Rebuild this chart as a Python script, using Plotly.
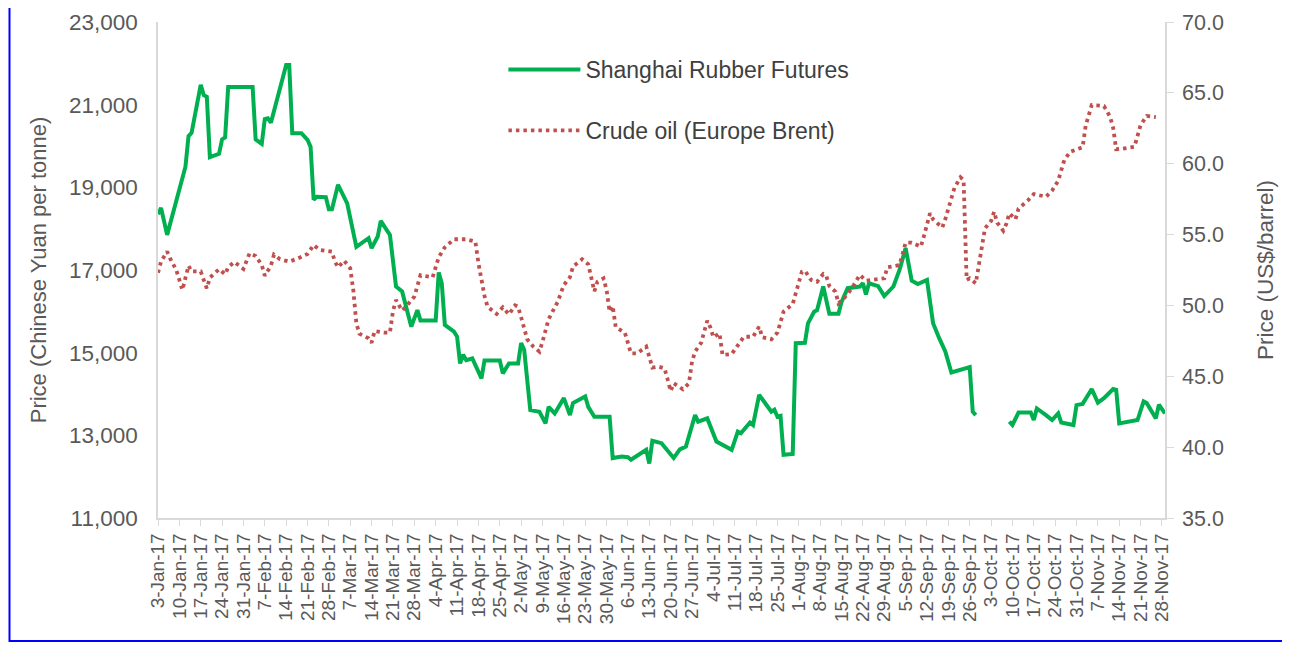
import plotly.graph_objects as go
import pandas as pd

# ---------------- data ----------------
rubber_dates = [
    "2017-01-03", "2017-01-04", "2017-01-06", "2017-01-12", "2017-01-13", "2017-01-14",
    "2017-01-17", "2017-01-18", "2017-01-19", "2017-01-20", "2017-01-23", "2017-01-24",
    "2017-01-25", "2017-01-26", "2017-02-03", "2017-02-04", "2017-02-06", "2017-02-07",
    "2017-02-08", "2017-02-09", "2017-02-14", "2017-02-15", "2017-02-16", "2017-02-19",
    "2017-02-21", "2017-02-22", "2017-02-23", "2017-02-24", "2017-02-27", "2017-02-28",
    "2017-03-01", "2017-03-03", "2017-03-06", "2017-03-09", "2017-03-13", "2017-03-14",
    "2017-03-16", "2017-03-17", "2017-03-20", "2017-03-22", "2017-03-24", "2017-03-27",
    "2017-03-29", "2017-03-30", "2017-04-04", "2017-04-05", "2017-04-06", "2017-04-07",
    "2017-04-10", "2017-04-11", "2017-04-12", "2017-04-13", "2017-04-14", "2017-04-16",
    "2017-04-19", "2017-04-20", "2017-04-25", "2017-04-26", "2017-04-28", "2017-05-01",
    "2017-05-02", "2017-05-03", "2017-05-05", "2017-05-08", "2017-05-10", "2017-05-11",
    "2017-05-13", "2017-05-16", "2017-05-18", "2017-05-19", "2017-05-23", "2017-05-24",
    "2017-05-26", "2017-05-31", "2017-06-01", "2017-06-04", "2017-06-06", "2017-06-07",
    "2017-06-12", "2017-06-13", "2017-06-14", "2017-06-17", "2017-06-21", "2017-06-23",
    "2017-06-25", "2017-06-28", "2017-06-29", "2017-07-02", "2017-07-05", "2017-07-10",
    "2017-07-12", "2017-07-13", "2017-07-16", "2017-07-17", "2017-07-19", "2017-07-23",
    "2017-07-24", "2017-07-25", "2017-07-26", "2017-07-27", "2017-07-30", "2017-07-31",
    "2017-08-03", "2017-08-04", "2017-08-06", "2017-08-07", "2017-08-09", "2017-08-11",
    "2017-08-14", "2017-08-15", "2017-08-17", "2017-08-21", "2017-08-22", "2017-08-23",
    "2017-08-24", "2017-08-27", "2017-08-29", "2017-09-01", "2017-09-03", "2017-09-05",
    "2017-09-07", "2017-09-09", "2017-09-12", "2017-09-14", "2017-09-16", "2017-09-18",
    "2017-09-20", "2017-09-23", "2017-09-26", "2017-09-27", "2017-09-28", "2017-10-01",
    "2017-10-09", "2017-10-10", "2017-10-12", "2017-10-16", "2017-10-17", "2017-10-18",
    "2017-10-21", "2017-10-23", "2017-10-25", "2017-10-26", "2017-10-30", "2017-10-31",
    "2017-11-02", "2017-11-05", "2017-11-07", "2017-11-09", "2017-11-12", "2017-11-13",
    "2017-11-14", "2017-11-18", "2017-11-20", "2017-11-22", "2017-11-23", "2017-11-26",
    "2017-11-27", "2017-11-29",
]
rubber_price = [
    18350, 18500, 17850, 19500, 20240, 20320,
    21480, 21230, 21190, 19730, 19810, 20160,
    20210, 21430, 21430, 20160, 20050, 20650,
    20670, 20565, 21960, 21960, 20310, 20310,
    20150, 19980, 18700, 18770, 18760, 18470,
    18470, 19060, 18610, 17560, 17770, 17530,
    17810, 18190, 17850, 16600, 16480, 15630,
    16030, 15780, 15780, 16940, 16680, 15670,
    15510, 15390, 14740, 14950, 14820, 14860,
    14380, 14810, 14810, 14500, 14740, 14740,
    15230, 15070, 13610, 13570, 13290, 13690,
    13530, 13900, 13490, 13780, 13940, 13690,
    13450, 13450, 12450, 12490, 12470, 12410,
    12650, 12320, 12870, 12810, 12450, 12660,
    12730, 13490, 13330, 13410, 12850, 12650,
    13090, 13050, 13310, 13250, 13980, 13570,
    13620, 13450, 13470, 12530, 12550, 15230,
    15240, 15710, 15990, 16030, 16600, 15940,
    15940, 16230, 16560, 16600, 16680, 16410,
    16680, 16610, 16370, 16600, 17000, 17530,
    16740, 16660, 16760, 15710, 15350, 15030,
    14520, 14580, 14650, 13570, 13490, None,
    13330, 13250, 13550, 13550, 13370, 13650,
    13490, 13370, 13530, 13310, 13250, 13730,
    13760, 14120, 13790, 13900, 14120, 14100,
    13290, 13330, 13370, 13820, 13780, 13410,
    13740, 13530,
]

brent_dates = [
    "2017-01-03", "2017-01-04", "2017-01-06", "2017-01-07", "2017-01-09", "2017-01-11",
    "2017-01-13", "2017-01-14", "2017-01-17", "2017-01-19", "2017-01-20", "2017-01-23",
    "2017-01-25", "2017-01-26", "2017-01-28", "2017-01-31", "2017-02-02", "2017-02-04",
    "2017-02-06", "2017-02-07", "2017-02-09", "2017-02-10", "2017-02-12", "2017-02-15",
    "2017-02-18", "2017-02-21", "2017-02-23", "2017-02-25", "2017-03-01", "2017-03-02",
    "2017-03-03", "2017-03-05", "2017-03-07", "2017-03-08", "2017-03-09", "2017-03-10",
    "2017-03-13", "2017-03-14", "2017-03-15", "2017-03-18", "2017-03-20", "2017-03-21",
    "2017-03-22", "2017-03-24", "2017-03-26", "2017-03-28", "2017-03-29", "2017-03-30",
    "2017-04-03", "2017-04-04", "2017-04-05", "2017-04-07", "2017-04-10", "2017-04-14",
    "2017-04-17", "2017-04-18", "2017-04-19", "2017-04-20", "2017-04-21", "2017-04-24",
    "2017-04-26", "2017-04-28", "2017-04-30", "2017-05-01", "2017-05-02", "2017-05-03",
    "2017-05-04", "2017-05-06", "2017-05-08", "2017-05-09", "2017-05-10", "2017-05-11",
    "2017-05-12", "2017-05-14", "2017-05-16", "2017-05-18", "2017-05-19", "2017-05-22",
    "2017-05-24", "2017-05-25", "2017-05-26", "2017-05-27", "2017-05-29", "2017-05-30",
    "2017-05-31", "2017-06-01", "2017-06-02", "2017-06-05", "2017-06-06", "2017-06-07",
    "2017-06-09", "2017-06-12", "2017-06-13", "2017-06-14", "2017-06-16", "2017-06-18",
    "2017-06-19", "2017-06-20", "2017-06-21", "2017-06-24", "2017-06-26", "2017-06-27",
    "2017-06-28", "2017-06-30", "2017-07-01", "2017-07-02", "2017-07-03", "2017-07-04",
    "2017-07-06", "2017-07-07", "2017-07-10", "2017-07-12", "2017-07-14", "2017-07-17",
    "2017-07-19", "2017-07-20", "2017-07-23", "2017-07-25", "2017-07-26", "2017-07-27",
    "2017-07-30", "2017-07-31", "2017-08-01", "2017-08-02", "2017-08-03", "2017-08-05",
    "2017-08-07", "2017-08-09", "2017-08-10", "2017-08-11", "2017-08-13", "2017-08-14",
    "2017-08-15", "2017-08-17", "2017-08-19", "2017-08-21", "2017-08-23", "2017-08-27",
    "2017-08-29", "2017-08-30", "2017-09-03", "2017-09-04", "2017-09-05", "2017-09-07",
    "2017-09-10", "2017-09-11", "2017-09-12", "2017-09-13", "2017-09-14", "2017-09-17",
    "2017-09-18", "2017-09-19", "2017-09-20", "2017-09-21", "2017-09-23", "2017-09-24",
    "2017-09-25", "2017-09-26", "2017-09-28", "2017-09-29", "2017-09-30", "2017-10-01",
    "2017-10-03", "2017-10-04", "2017-10-05", "2017-10-07", "2017-10-08", "2017-10-09",
    "2017-10-11", "2017-10-12", "2017-10-15", "2017-10-17", "2017-10-21", "2017-10-23",
    "2017-10-25", "2017-10-26", "2017-10-27", "2017-10-29", "2017-11-02", "2017-11-03",
    "2017-11-04", "2017-11-05", "2017-11-09", "2017-11-11", "2017-11-12", "2017-11-13",
    "2017-11-15", "2017-11-19", "2017-11-20", "2017-11-21", "2017-11-23", "2017-11-26",
]
brent_price = [
    52.3, 53.1, 53.8, 53.3, 52.5, 51.1,
    52.8, 52.4, 52.4, 51.2, 51.96, 52.55,
    52.2, 52.7, 53.07, 52.57, 53.68, 53.49,
    52.85, 52.1, 52.8, 53.58, 53.26, 53.09,
    53.33, 53.63, 54.26, 53.91, 53.79, 53.09,
    52.69, 53.16, 52.62, 51.09, 48.74, 48.0,
    47.68, 47.37, 48.2, 48.08, 48.08, 49.6,
    50.38, 49.63, 50.1, 50.62, 51.37, 52.13,
    51.99, 52.74, 53.4, 54.1, 54.67, 54.67,
    54.5, 53.0, 51.8, 50.67, 49.91, 49.4,
    49.87, 49.37, 50.01, 49.91, 49.16, 48.39,
    47.61, 47.09, 46.74, 47.44, 48.27, 49.02,
    49.45, 50.26, 51.44, 51.99, 52.74, 53.26,
    52.9, 52.08, 51.0, 51.67, 51.91, 51.09,
    49.56, 49.96, 48.46, 48.08, 47.33, 46.62,
    46.62, 47.09, 46.38, 45.61, 45.68, 45.56,
    44.79, 43.96, 44.51, 44.08, 44.51, 46.03,
    46.74, 47.37, 48.15, 48.92, 48.46, 47.75,
    48.03, 46.5, 46.57, 47.21, 47.79, 47.79,
    48.5, 47.75, 47.61, 48.08, 48.81, 49.56,
    50.1, 50.85, 51.6, 52.38, 52.45, 51.8,
    51.67, 52.22, 52.08, 51.37, 50.97, 50.15,
    50.33, 50.79, 51.44, 52.15, 51.75, 51.84,
    51.91, 52.69, 52.85, 53.63, 54.43, 54.43,
    54.15, 54.9, 55.68, 56.5, 56.08, 55.49,
    56.08, 56.85, 57.56, 58.3, 59.04, 58.85,
    51.8, 51.91, 51.56, 53.0, 54.2, 55.44,
    55.96, 56.61, 55.84, 55.27, 55.75, 56.5,
    56.08, 56.83, 57.39, 57.86, 57.67, 58.1,
    58.8, 59.56, 60.26, 60.85, 61.16, 62.68,
    63.44, 64.14, 64.07, 63.32, 62.54, 61.02,
    61.06, 61.2, 61.96, 62.73, 63.37, 63.28,
]

tick_dates = pd.date_range("2017-01-03", "2017-11-28", freq="7D")
tick_labels = [f"{d.day}-{d.strftime('%b')}-{d.strftime('%y')}" for d in tick_dates]

left_ticks = [11000, 13000, 15000, 17000, 19000, 21000, 23000]
right_ticks = [35, 40, 45, 50, 55, 60, 65, 70]

# ---------------- figure ----------------
FONT = "Liberation Sans"
TXT = "#595959"
AX = "#D9D9D9"

# the page body has an 8px margin: plot area wanted at page x 158..1165, y 22..518
fig = go.Figure()
fig.add_trace(go.Scatter(
    x=rubber_dates, y=rubber_price, name="Shanghai Rubber Futures",
    mode="lines", connectgaps=False, legendgroup="g1",
    line=dict(color="#00B050", width=4),
))
fig.add_trace(go.Scatter(
    x=brent_dates, y=brent_price, name="Crude oil (Europe Brent)",
    mode="lines", yaxis="y2", legendgroup="g2",
    line=dict(color="#C0504D", width=3.8, dash="3.5px,4px"),
))

fig.update_layout(
    width=1290, height=646,
    margin=dict(l=150, r=133, t=14, b=136, autoexpand=False),
    paper_bgcolor="white", plot_bgcolor="white",
    font=dict(family=FONT, color=TXT),
    showlegend=True,
    legend=dict(
        x=0.343, y=0.9476, xanchor="left", yanchor="top",
        bgcolor="rgba(0,0,0,0)", font=dict(size=23, color="#404040"),
        itemwidth=72, traceorder="grouped", tracegroupgap=28,
    ),
    xaxis=dict(
        type="date", range=["2017-01-03", "2017-11-29"], automargin=False,
        tickmode="array", tickvals=tick_dates, ticktext=tick_labels,
        tickangle=-90, tickfont=dict(size=19, color=TXT, family=FONT),
        showgrid=False, zeroline=False,
        showline=True, linecolor=AX, linewidth=1.5,
        ticks="outside", ticklen=6, tickcolor=AX,
    ),
    yaxis=dict(
        range=[11000, 23000], tickmode="array", tickvals=left_ticks, automargin=False,
        tickformat=",", tickfont=dict(size=22.5, color=TXT, family=FONT),
        showgrid=False, zeroline=False,
        showline=True, linecolor=AX, linewidth=1.5,
        ticks="", ticklabelstandoff=14,
        title=dict(text="Price (Chinese Yuan per tonne)", font=dict(size=22, color=TXT), standoff=16),
    ),
    yaxis2=dict(
        overlaying="y", side="right", automargin=False,
        range=[35, 70], tickmode="array", tickvals=right_ticks,
        tickformat=".1f", tickfont=dict(size=21.5, color=TXT, family=FONT),
        showgrid=False, zeroline=False,
        showline=True, linecolor=AX, linewidth=1.5,
        ticks="outside", ticklen=7, tickcolor=AX, ticklabelstandoff=4,
        title=dict(text="Price (US$/barrel)", font=dict(size=22.5, color=TXT), standoff=34),
    ),
)

# blue frame around the chart (paper coords relative to plot area 1007 x 496 px)
fig.add_shape(
    type="rect", xref="paper", yref="paper",
    x0=(9.5 - 158) / 1007, x1=(1285 - 158) / 1007,
    y0=(518 - 641) / 496, y1=(518 + 20) / 496,
    line=dict(color="#0000FF", width=2), fillcolor="rgba(0,0,0,0)", layer="below",
)

fig.write_html("out.html")
